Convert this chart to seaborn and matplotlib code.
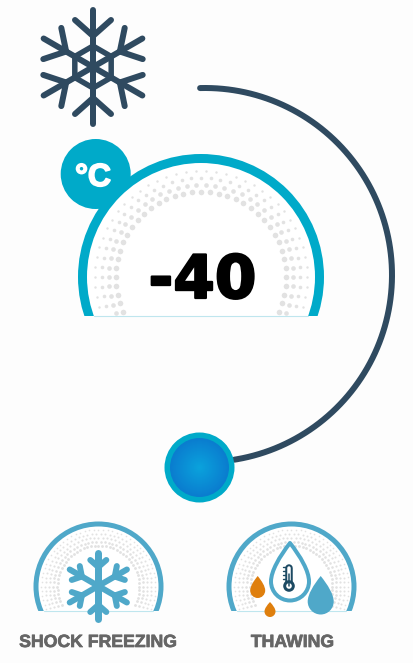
import numpy as np
import pandas as pd
import matplotlib
matplotlib.use('Agg')
import matplotlib.pyplot as plt
import matplotlib.patheffects as pe
from matplotlib.patches import Circle, Rectangle, PathPatch
from matplotlib.path import Path
import seaborn as sns

# chart content
temperature = '-40'
unit = '°C'
modes = ['SHOCK FREEZING', 'THAWING']

# dotted rings of the dials: radius, dot radius, dots over the half circle
big_ring_radius = [85, 92, 99, 106]
big_ring_dot = [2.8, 2.3, 1.8, 1.2]
big_ring_count = [30, 31, 32, 33]
small_ring_radius = [41, 45, 49, 53, 57]
small_ring_dot = [1.4, 1.3, 1.1, 1.0, 0.8]
small_ring_count = [34, 35, 36, 37, 38]

# colours
DARK = '#2f4a60'
TEAL = '#00aac9'
BLUE = '#4fa8c9'
ORANGE = '#df7f0e'
GREY = '#e2e2e2'

sns.set_theme(style='white')
plt.rcParams['font.family'] = ['Liberation Sans', 'DejaVu Sans']

fig = plt.figure(figsize=(4.14, 6.63), dpi=100)
fig.patch.set_facecolor('#fdfdfd')
ax = fig.add_axes([0, 0, 1, 1])
ax.set_xlim(0, 414)
ax.set_ylim(663, 0)
ax.axis('off')

PX = 0.72  # one pixel in points


def dots(cx, cy, radius, dot, count, cut):
    step = 180 / count
    angles = np.radians(np.arange(-5, count + 6) * step)
    df = pd.DataFrame({'x': cx + radius * np.cos(angles), 'y': cy - radius * np.sin(angles)})
    df = df[df['y'] < cut - dot]
    sns.scatterplot(data=df, x='x', y='y', s=(2 * dot * PX) ** 2, color=GREY, linewidth=0, ax=ax, legend=False, zorder=3)


def dial(cx, cy, r, width, color, cut, zorder=2):
    c = Circle((cx, cy), r - width / 2, fc='white', ec=color, lw=width * PX, zorder=zorder)
    ax.add_patch(c)
    c.set_clip_path(Rectangle((0, 0), 414, cut, transform=ax.transData))
    half = np.sqrt((r - width) ** 2 - (cut - cy) ** 2)
    ax.plot([cx - half, cx + half], [cut, cut], color='#bfe6ee', lw=0.8, zorder=zorder)


def flake(cx, cy, arm, base, end, side, lw, color, lw_vertical=None, zorder=5):
    for a in np.radians(np.arange(30, 390, 60)):
        u = np.array([np.cos(a), -np.sin(a)])
        v = np.array([u[1], -u[0]])
        c = np.array([cx, cy])
        w = lw
        if lw_vertical is not None and abs(u[0]) < 0.01:
            w = lw_vertical
        tip = c + u * arm
        ax.plot([c[0], tip[0]], [c[1], tip[1]], color=color, lw=w * PX, solid_capstyle='round', zorder=zorder)
        for sgn in (-1, 1):
            b = c + u * base
            e = c + u * end + v * side * sgn
            ax.plot([b[0], e[0]], [b[1], e[1]], color=color, lw=lw * PX, solid_capstyle='round', zorder=zorder)


def drop(cx, tip, bottom, r, fc, ec='none', lw=0, zorder=6):
    cy = bottom - r
    k = 0.552 * r
    verts = [(cx, tip),
             (cx + r * 0.55, tip + (cy - tip) * 0.35), (cx + r, cy - k), (cx + r, cy),
             (cx + r, cy + k), (cx + k, bottom), (cx, bottom),
             (cx - k, bottom), (cx - r, cy + k), (cx - r, cy),
             (cx - r, cy - k), (cx - r * 0.55, tip + (cy - tip) * 0.35), (cx, tip),
             (cx, tip)]
    codes = [Path.MOVETO] + [Path.CURVE4] * 12 + [Path.CLOSEPOLY]
    ax.add_patch(PathPatch(Path(verts, codes), fc=fc, ec=ec, lw=lw * PX, zorder=zorder, joinstyle='round'))


# sweep arc
theta = np.radians(np.linspace(91.5, -81, 200))
arc = pd.DataFrame({'x': 205 + 187 * np.cos(theta), 'y': 275 - 187 * np.sin(theta)})
sns.lineplot(data=arc, x='x', y='y', sort=False, estimator=None, color=DARK, lw=6 * PX, ax=ax,
             legend=False, zorder=1, solid_capstyle='round')

# knob
ax.add_patch(Circle((199.5, 467.5), 35, fc=TEAL, ec='none', zorder=2))
for rr, col in zip(np.linspace(29.5, 1, 30), sns.blend_palette(['#0a7dcf', '#0aa2dc'], 30)):
    ax.add_patch(Circle((199.5, 467.5), rr, fc=col, ec='none', zorder=3))

# big snowflake
flake(93, 67, 57, 31, 47, 18, 6, DARK)
hex_a = np.radians(np.arange(30, 390, 60))
hx = 93 + 21 * np.cos(hex_a)
hy = 67 - 21 * np.sin(hex_a)
ax.fill(hx, hy, fc='none', ec=DARK, lw=5.5 * PX, zorder=5)

# main dial
ax.add_patch(Circle((95.7, 174), 35, fc=TEAL, ec='none', zorder=1))
dial(201, 277, 123, 9, TEAL, 316)
for rad, d, n in zip(big_ring_radius, big_ring_dot, big_ring_count):
    dots(201, 277, rad, d, n, 316)
ax.text(93, 186, unit, color='white', fontsize=23, fontweight='bold', ha='center', va='baseline', zorder=6,
        path_effects=[pe.withStroke(linewidth=1.2, foreground='white')])
ax.text(202.5, 298, temperature, color='black', fontsize=43, fontweight='bold', family='DejaVu Sans',
        ha='center', va='baseline', zorder=6,
        path_effects=[pe.withStroke(linewidth=1.6, foreground='black')])

# small dials
for cx in (98.5, 291.5):
    dial(cx, 586.5, 65, 5, BLUE, 611)
    for rad, d, n in zip(small_ring_radius, small_ring_dot, small_ring_count):
        dots(cx, 586.5, rad, d, n, 611)

flake(98.3, 586, 33, 19, 26, 8, 6, BLUE, lw_vertical=7)

# droplets
drop(290, 543, 600.5, 19, 'white', ec=BLUE, lw=4)
drop(257.7, 576, 598, 7.5, ORANGE)
drop(270, 602, 617, 5.5, ORANGE)
drop(320.7, 576, 614.5, 13, BLUE)

# thermometer
ax.plot([289, 289], [568, 584], color='#1d4a63', lw=7.5 * PX, solid_capstyle='round', zorder=7)
ax.plot([289, 289], [568, 584], color='white', lw=3.5 * PX, solid_capstyle='round', zorder=8)
ax.add_patch(Circle((289, 586), 5.8, fc='#1d4a63', ec='none', zorder=8))
ax.add_patch(Circle((289, 586), 2.8, fc='white', ec='none', zorder=9))
ax.plot([289, 289], [574, 586], color='#1d4a63', lw=1.5 * PX, zorder=10)
for ty in (567, 571, 575, 579):
    ax.plot([283, 286], [ty, ty], color='#1d4a63', lw=1.4 * PX, zorder=7)

# captions
for x, label in zip((98, 292.5), modes):
    ax.text(x, 647, label, color='#666666', fontsize=12.7, fontweight='bold', ha='center', va='baseline', zorder=6,
            path_effects=[pe.withStroke(linewidth=0.5, foreground='#666666')])

fig.savefig('out.png', dpi=100)
